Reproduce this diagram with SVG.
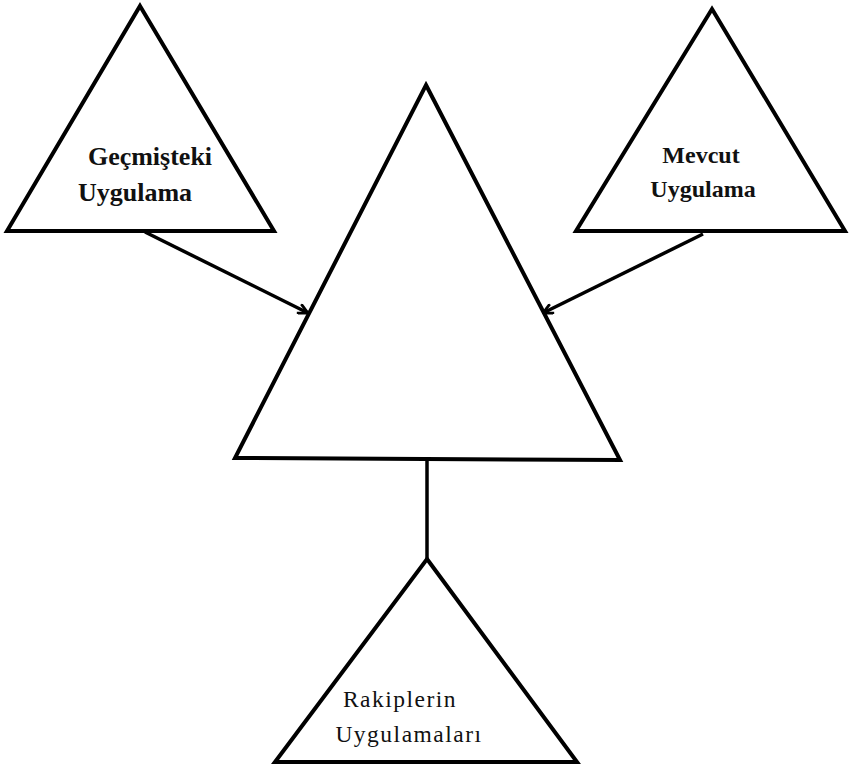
<svg xmlns="http://www.w3.org/2000/svg" width="851" height="765" viewBox="0 0 851 765">
<defs>
<style>
.tri{fill:none;stroke:#000;stroke-width:4;stroke-linejoin:miter}
.con{fill:none;stroke:#000;stroke-width:3.5}
.lbl{font-family:"Liberation Serif","Times New Roman",serif;font-size:24px;font-weight:bold;fill:#111;text-anchor:middle}
.big{font-size:26px}
.lbl2{font-family:"Liberation Serif","Times New Roman",serif;font-size:23.5px;fill:#111;text-anchor:middle;letter-spacing:1.5px}
</style>
<marker id="arr" viewBox="0 0 12 12" refX="11" refY="6" markerWidth="12" markerHeight="12" markerUnits="userSpaceOnUse" orient="auto">
<path d="M1,1 L11,6 L1,11" fill="none" stroke="#000" stroke-width="2.8"/>
</marker>
</defs>
<rect width="851" height="765" fill="#fff"/>
<g id="connectors">
<line class="con" x1="145" y1="232" x2="308" y2="313" marker-end="url(#arr)"/>
<line class="con" x1="703" y1="234" x2="543" y2="313" marker-end="url(#arr)"/>
<line class="con" x1="427" y1="460" x2="427" y2="559"/>
</g>
<g id="past">
<polygon class="tri" points="140,6 274,231 7,231"/>
<text class="lbl big" x="150" y="165">Geçmişteki</text>
<text class="lbl big" x="135" y="201">Uygulama</text>
</g>
<g id="center">
<polygon class="tri" points="426,85 620,460 235,458"/>
</g>
<g id="current">
<polygon class="tri" points="712,9 845,231 576,231"/>
<text class="lbl" x="701" y="163">Mevcut</text>
<text class="lbl" x="703" y="197">Uygulama</text>
</g>
<g id="competitors">
<polygon class="tri" points="427,559 577,762 275,762"/>
<text class="lbl2" x="400" y="707">Rakiplerin</text>
<text class="lbl2" x="409" y="742">Uygulamaları</text>
</g>
</svg>
